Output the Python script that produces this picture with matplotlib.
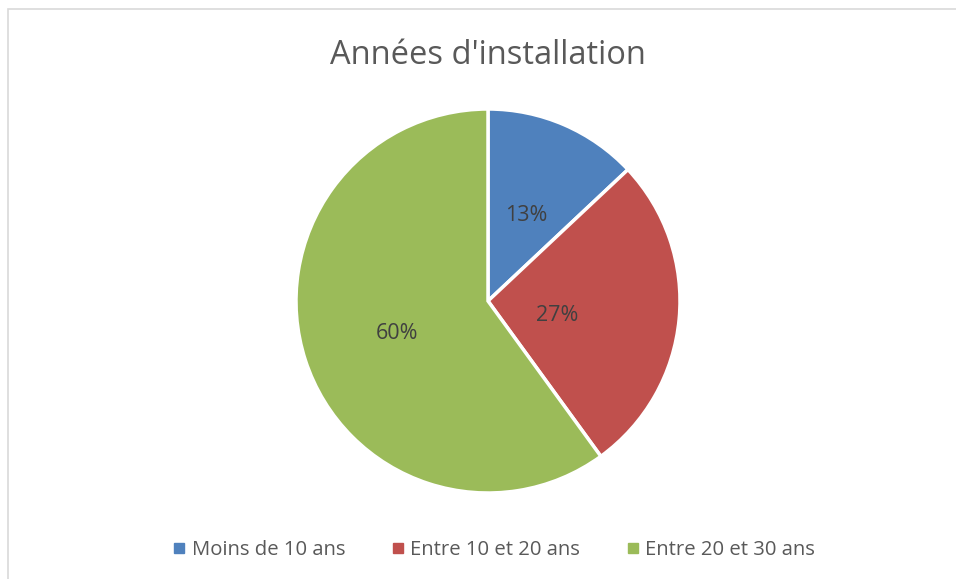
import matplotlib
matplotlib.use("Agg")
import matplotlib.pyplot as plt
from matplotlib.lines import Line2D
from matplotlib.patches import Rectangle
import numpy as np

plt.rcParams['font.family'] = ['Open Sans', 'DejaVu Sans']

# data
title = "Années d'installation"
categories = ['Moins de 10 ans', 'Entre 10 et 20 ans', 'Entre 20 et 30 ans']
shares = [13, 27, 60]

colors = ['#4F81BD', '#C0504D', '#9BBB59']
label_dist = [0.5, 0.36, 0.5]
label_drop = [0.015, 0.04, 0.015]

fig = plt.figure(figsize=(9.56, 5.79), dpi=100)
fig.patch.set_facecolor('white')

# light frame (only top/left edges visible in the crop)
fig.patches.append(Rectangle((7.5 / 956, -0.1), 1.2, 1 - 9.5 / 579 + 0.1,
                             transform=fig.transFigure, fill=False,
                             edgecolor='#D9D9D9', linewidth=1.2))

ax = fig.add_axes([296 / 956, 86 / 579, 384 / 956, 384 / 579])
wedges, _ = ax.pie(shares, colors=colors, startangle=90, counterclock=False,
                   wedgeprops=dict(edgecolor='white', linewidth=2.5))
for w in wedges:
    w.set_clip_on(False)
ax.set_xlim(-1, 1)
ax.set_ylim(-1, 1)

total = sum(shares)
for w, v, d, dy in zip(wedges, shares, label_dist, label_drop):
    ang = np.deg2rad((w.theta1 + w.theta2) / 2)
    ax.text(d * np.cos(ang), d * np.sin(ang) - dy, f"{v / total * 100:.0f}%",
            ha='center', va='center', fontsize=15.5, color='#404040')

fig.text(488 / 956, 1 - 56 / 579, title, ha='center', va='center',
         fontsize=23.5, color='#595959')

handles = [Line2D([], [], marker='s', linestyle='none', markersize=7,
                  markerfacecolor=c, markeredgecolor=c) for c in colors]
fig.legend(handles, categories, loc='center', bbox_to_anchor=(494 / 956, 1 - 550 / 579),
           ncol=3, frameon=False, fontsize=14.6, labelcolor='#595959',
           handlelength=0.6, handletextpad=0.3, columnspacing=2.3)

fig.savefig('out.png', dpi=100)
